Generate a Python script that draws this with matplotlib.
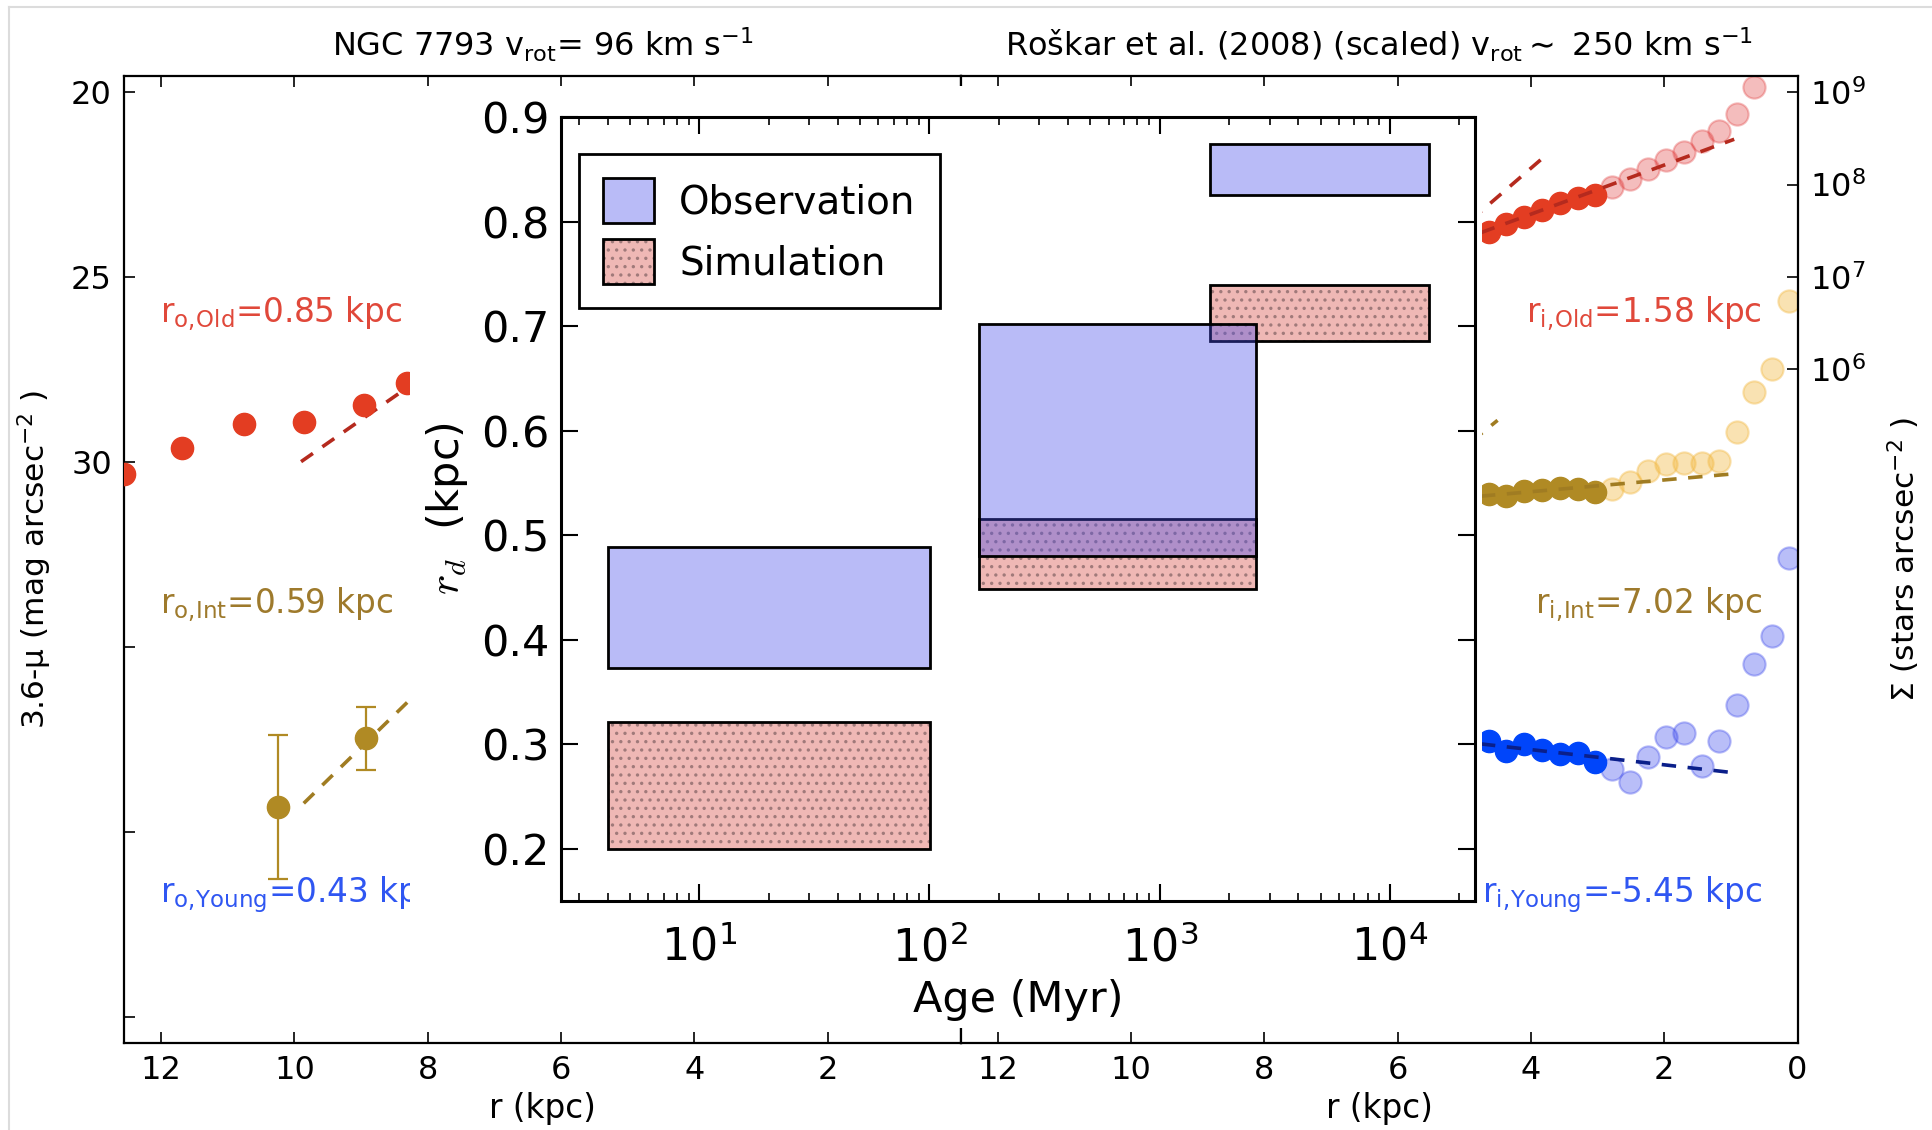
import matplotlib
matplotlib.use("Agg")
import matplotlib.pyplot as plt
from matplotlib.legend_handler import HandlerTuple
from matplotlib.lines import Line2D
from matplotlib.patches import Patch, Rectangle
from matplotlib.ticker import FormatStrFormatter, NullLocator

# NGC 7793 (left): 3.6 micron surface brightness in the outer disc
ngc_old_r = [12.55, 11.68, 10.76, 9.86, 8.95, 8.31]
ngc_old_mu = [30.33, 29.62, 28.97, 28.92, 28.45, 27.87]
ngc_old_fit_r = [9.90, 7.80]
ngc_old_fit_mu = [29.99, 27.35]
ngc_int_r = [10.24, 8.93]
ngc_int_mu = [39.33, 37.47]
ngc_int_err = [1.96, 0.85]
ngc_int_fit_r = [9.86, 8.00]
ngc_int_fit_mu = [39.23, 35.96]

# Roskar et al. (2008) model (right): log10 surface density
sim_fit_r = [4.63, 4.37, 4.10, 3.84, 3.57, 3.30, 3.04]
sim_rest_r = [2.78, 2.51, 2.25, 1.97, 1.71, 1.44, 1.18, 0.91, 0.65, 0.38, 0.13]
sim_old_fit = [7.49, 7.57, 7.65, 7.73, 7.80, 7.86, 7.89]
sim_old_rest = [7.97, 8.06, 8.17, 8.27, 8.35, 8.47, 8.58, 8.76, 9.05]
sim_int_fit = [4.65, 4.63, 4.69, 4.70, 4.72, 4.71, 4.67]
sim_int_rest = [4.71, 4.78, 4.90, 4.98, 4.99, 4.99, 5.01, 5.32, 5.76, 6.00, 6.74]
sim_young_fit = [1.98, 1.87, 1.95, 1.88, 1.84, 1.85, 1.75]
sim_young_rest = [1.68, 1.54, 1.81, 2.02, 2.07, 1.71, 1.98, 2.37, 2.81, 3.12, 3.96]

sim_old_line_r = [4.75, 0.95]
sim_old_line = [7.48, 8.49]
sim_old_steep_r = [5.20, 3.85]
sim_old_steep = [7.43, 8.27]
sim_int_line_r = [4.75, 0.98]
sim_int_line = [4.63, 4.87]
sim_int_steep_r = [5.20, 4.50]
sim_int_steep = [5.04, 5.45]
sim_young_line_r = [4.75, 0.98]
sim_young_line = [1.95, 1.64]

# inset: disc scale length vs stellar age
age_lo = [4, 164, 1656]
age_hi = [101, 2610, 14800]
obs_lo = [0.373, 0.480, 0.825]
obs_hi = [0.489, 0.702, 0.874]
sim_lo = [0.200, 0.448, 0.686]
sim_hi = [0.321, 0.515, 0.739]

old_labels = [r"r$_{\rm o,\!Old}$=0.85 kpc", r"r$_{\rm o,\!Int}$=0.59 kpc",
              r"r$_{\rm o,\!Young}$=0.43 kpc"]
inner_labels = [r"r$_{\rm i,\!Old}$=1.58 kpc", r"r$_{\rm i,\!Int}$=7.02 kpc",
                r"r$_{\rm i,\!Young}$=-5.45 kpc"]

RED = "#e33d22"
RED_DARK = "#b52a1e"
RED_LIGHT = (0.88, 0.22, 0.22, 0.33)
GOLD = "#b08a24"
GOLD_DARK = "#a07c22"
GOLD_LIGHT = (0.95, 0.72, 0.25, 0.40)
BLUE = "#0045fa"
BLUE_DARK = "#0a1f8a"
BLUE_LIGHT = (0.22, 0.27, 0.92, 0.35)
TEXT_COLORS = ["#e0483a", "#9e7a2c", "#2f56f2"]
OBS_FACE = (0.28, 0.30, 0.92, 0.38)
SIM_FACE = "#efb8b5"
HATCH_COLOR = "#a07a7a"

plt.rcParams["font.family"] = "DejaVu Sans"
plt.rcParams["hatch.linewidth"] = 1.2

fig = plt.figure(figsize=(19.32, 11.30), dpi=100)
ax_l = fig.add_axes([0.0644, 0.0774, 0.4330, 0.8550])
ax_r = fig.add_axes([0.4974, 0.0774, 0.4330, 0.8550])

ms = 16
dash = (4, 3.2)

# left panel
ax_l.plot(ngc_old_r, ngc_old_mu, "o", color=RED, ms=ms, mec=RED, zorder=3)
ax_l.plot(ngc_old_fit_r, ngc_old_fit_mu, "--", color=RED_DARK, lw=2.6, dashes=dash)
ax_l.errorbar(ngc_int_r, ngc_int_mu, yerr=ngc_int_err, fmt="o", color=GOLD,
              ms=ms, elinewidth=1.6, capsize=7, capthick=1.6, zorder=3)
ax_l.plot(ngc_int_fit_r, ngc_int_fit_mu, "--", color=GOLD_DARK, lw=2.6, dashes=dash)
ax_l.set_xlim(12.55, 0)
ax_l.set_ylim(45.7, 19.57)
ax_l.set_xticks(range(0, 13, 2))
ax_l.set_xticklabels(["", "2", "4", "6", "8", "10", "12"])
ax_l.set_yticks([20, 25, 30, 35, 40, 45])
ax_l.set_yticklabels(["20", "25", "30", "", "", ""])
ax_l.set_xlabel("r (kpc)", fontsize=23.5, labelpad=4)
ax_l.set_ylabel("3.6-\u03bc (mag arcsec$^{-2}$ )", fontsize=22.5, labelpad=12)
ax_l.set_title(r"NGC 7793 v$_{\rm rot}$= 96 km s$^{-1}$", fontsize=23, pad=14)
ax_l.tick_params(direction="in", top=True, right=False, length=8, width=1.2,
                 labelsize=23, pad=9)

# right panel
for fit_y, rest_y, c, c_light in [(sim_old_fit, sim_old_rest, RED, RED_LIGHT),
                                  (sim_int_fit, sim_int_rest, GOLD, GOLD_LIGHT),
                                  (sim_young_fit, sim_young_rest, BLUE, BLUE_LIGHT)]:
    ax_r.plot(sim_fit_r, [10 ** v for v in fit_y], "o", color=c, ms=ms, mec=c, zorder=3)
    ax_r.plot(sim_rest_r[:len(rest_y)], [10 ** v for v in rest_y], "o", ms=ms,
              mfc=c_light, mec=c_light, mew=1.5, zorder=2)

for xs, ys, c in [(sim_old_line_r, sim_old_line, RED_DARK),
                  (sim_old_steep_r, sim_old_steep, RED_DARK),
                  (sim_int_line_r, sim_int_line, GOLD_DARK),
                  (sim_int_steep_r, sim_int_steep, GOLD_DARK),
                  (sim_young_line_r, sim_young_line, BLUE_DARK)]:
    ax_r.plot(xs, [10 ** v for v in ys], "--", color=c, lw=2.6, dashes=dash, zorder=4)

ax_r.set_yscale("log")
ax_r.set_xlim(12.55, 0)
ax_r.set_ylim(10 ** -1.28, 10 ** 9.17)
ax_r.set_xticks(range(0, 13, 2))
ax_r.set_yticks([1e6, 1e7, 1e8, 1e9])
ax_r.yaxis.set_minor_locator(NullLocator())
ax_r.yaxis.set_label_position("right")
ax_r.set_xlabel("r (kpc)", fontsize=23.5, labelpad=4)
ax_r.set_ylabel("\u03a3 (stars arcsec$^{-2}$ )", fontsize=22.5, labelpad=14)
ax_r.set_title("Ro\u0161kar et al. (2008) (scaled) v$_{\\rm rot}$$\\sim$ 250 km s$^{-1}$",
               fontsize=23, pad=14)
ax_r.tick_params(direction="in", top=True, left=False, right=True, labelleft=False,
                 labelright=True, length=8, width=1.2, labelsize=23, pad=9)

for ax in (ax_l, ax_r):
    for sp in ax.spines.values():
        sp.set_linewidth(1.6)

for i, y in enumerate([0.745, 0.444, 0.1454]):
    ax_l.text(0.0427, y, old_labels[i], color=TEXT_COLORS[i], fontsize=23.5,
              transform=ax_l.transAxes, ha="left", va="baseline")
    ax_r.text(0.957, y, inner_labels[i], color=TEXT_COLORS[i], fontsize=23.5,
              transform=ax_r.transAxes, ha="right", va="baseline")

# white backing behind the inset and its labels
fig.add_artist(Rectangle((0.2124, 0.0905), 0.5548, 0.8332, transform=fig.transFigure,
                         facecolor="white", edgecolor="none", zorder=1))

ax_in = fig.add_axes([0.2902, 0.2028, 0.4732, 0.6936], zorder=2)
for lo, hi, s0, s1, o0, o1 in zip(age_lo, age_hi, sim_lo, sim_hi, obs_lo, obs_hi):
    ax_in.add_patch(Rectangle((lo, s0), hi - lo, s1 - s0, facecolor=SIM_FACE,
                              edgecolor=HATCH_COLOR, hatch="..", lw=0, zorder=1))
    ax_in.add_patch(Rectangle((lo, s0), hi - lo, s1 - s0, facecolor="none",
                              edgecolor="black", lw=2, zorder=1.1))
    ax_in.add_patch(Rectangle((lo, o0), hi - lo, o1 - o0, facecolor=OBS_FACE,
                              edgecolor="black", lw=2, zorder=2))

ax_in.set_xscale("log")
ax_in.set_xlim(2.5, 2.34e4)
ax_in.set_ylim(0.15, 0.9)
ax_in.set_yticks([0.2, 0.3, 0.4, 0.5, 0.6, 0.7, 0.8, 0.9])
ax_in.yaxis.set_major_formatter(FormatStrFormatter("%.1f"))
ax_in.tick_params(which="both", direction="in", top=True, right=True, labelsize=31)
ax_in.tick_params(which="major", length=12, width=1.5, pad=8)
ax_in.tick_params(axis="x", which="major", pad=18, labelsize=32)
ax_in.tick_params(which="minor", length=6, width=1.2)
ax_in.set_xlabel("Age (Myr)", fontsize=31, labelpad=6)
ax_in.set_ylabel(r"$r_d$  (kpc)", fontsize=31, labelpad=8, math_fontfamily="cm")
for sp in ax_in.spines.values():
    sp.set_linewidth(2.2)

obs_handle = Patch(facecolor=OBS_FACE, edgecolor="black", lw=2)
sim_handle = (Patch(facecolor=SIM_FACE, edgecolor=HATCH_COLOR, hatch="..", lw=0),
              Patch(facecolor="none", edgecolor="black", lw=2))
leg = ax_in.legend([obs_handle, sim_handle], ["Observation", "Simulation"],
                   handler_map={tuple: HandlerTuple(ndivide=1, pad=0)},
                   loc="upper left", bbox_to_anchor=(0.0202, 0.9528), borderaxespad=0,
                   fontsize=28, fancybox=False, framealpha=1, edgecolor="black",
                   handlelength=1.3, handleheight=1.4, borderpad=0.62,
                   labelspacing=0.4, handletextpad=0.65)
leg.get_frame().set_linewidth(2)

# thin grey frame around the whole figure
fig.add_artist(Line2D([0.0047, 0.0047], [0.0, 0.9938], transform=fig.transFigure,
                      color="#dcdcdc", lw=1.5))
fig.add_artist(Line2D([0.0047, 1.0], [0.9938, 0.9938], transform=fig.transFigure,
                      color="#dcdcdc", lw=1.5))

fig.savefig("out.png", dpi=100, facecolor="white")
